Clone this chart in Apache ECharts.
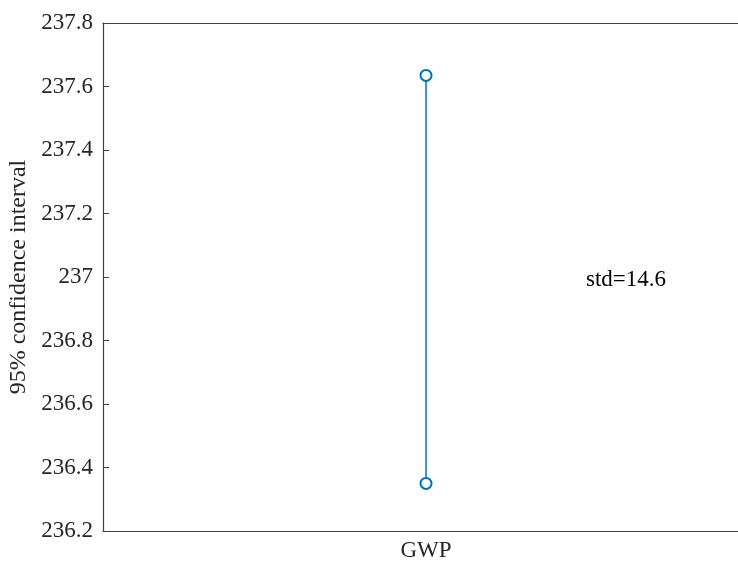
<!DOCTYPE html>
<html>
<head>
<meta charset="utf-8">
<script src="https://cdn.jsdelivr.net/npm/echarts@6/dist/echarts.min.js"></script>
<style>html,body{margin:0;padding:0;background:#fff;}#c{width:738px;height:564px;}</style>
</head>
<body>
<div id="c"></div>
<script>
const categories = ['GWP'];
const lowerValues = [236.35];
const upperValues = [237.635];
const stdLabel = 'std=14.6';
const yTicks = [236.2, 236.4, 236.6, 236.8, 237, 237.2, 237.4, 237.6, 237.8];

const font = 'Liberation Serif';
const axisColor = '#404040';
const chart = echarts.init(document.getElementById('c'));
const lineData = [];
categories.forEach((c, i) => { lineData.push([c, lowerValues[i]]); lineData.push([c, upperValues[i]]); });
chart.setOption({
  animation: false,
  grid: { left: 103, top: 23, width: 646, bottom: 33, containLabel: false, outerBoundsMode: 'none', show: false },
  xAxis: [{
    type: 'category', data: categories, boundaryGap: true,
    axisLine: { lineStyle: { color: axisColor, width: 1.2 } },
    axisTick: { show: false },
    axisLabel: { color: '#262626', fontFamily: font, fontSize: 23, margin: 8 }
  }, {
    type: 'category', data: categories, position: 'top',
    axisLine: { show: true, lineStyle: { color: axisColor, width: 1.2 } },
    axisTick: { show: false }, axisLabel: { show: false }
  }],
  yAxis: {
    type: 'value', min: yTicks[0], max: yTicks[yTicks.length - 1], interval: 0.2,
    name: '95% confidence interval', nameLocation: 'middle', nameGap: 70,
    nameTextStyle: { color: '#262626', fontFamily: font, fontSize: 24 },
    axisLine: { show: true, lineStyle: { color: axisColor, width: 1.2 } },
    axisTick: { show: true, inside: true, length: 6, lineStyle: { color: axisColor } },
    splitLine: { show: false },
    axisLabel: { color: '#262626', fontFamily: font, fontSize: 23, margin: 10,
      formatter: v => String(parseFloat(v.toFixed(1))) }
  },
  series: [{
    type: 'line', data: lineData,
    lineStyle: { color: '#0072BD', width: 1.5 },
    itemStyle: { color: '#0072BD', borderColor: '#0072BD', borderWidth: 1.5 },
    symbol: 'emptyCircle', symbolSize: 11, showSymbol: true
  }],
  graphic: [{
    type: 'text', left: 586, top: 268,
    style: { text: stdLabel, fontFamily: font, fontSize: 23, fill: '#000' }
  }]
});
</script>
</body>
</html>
